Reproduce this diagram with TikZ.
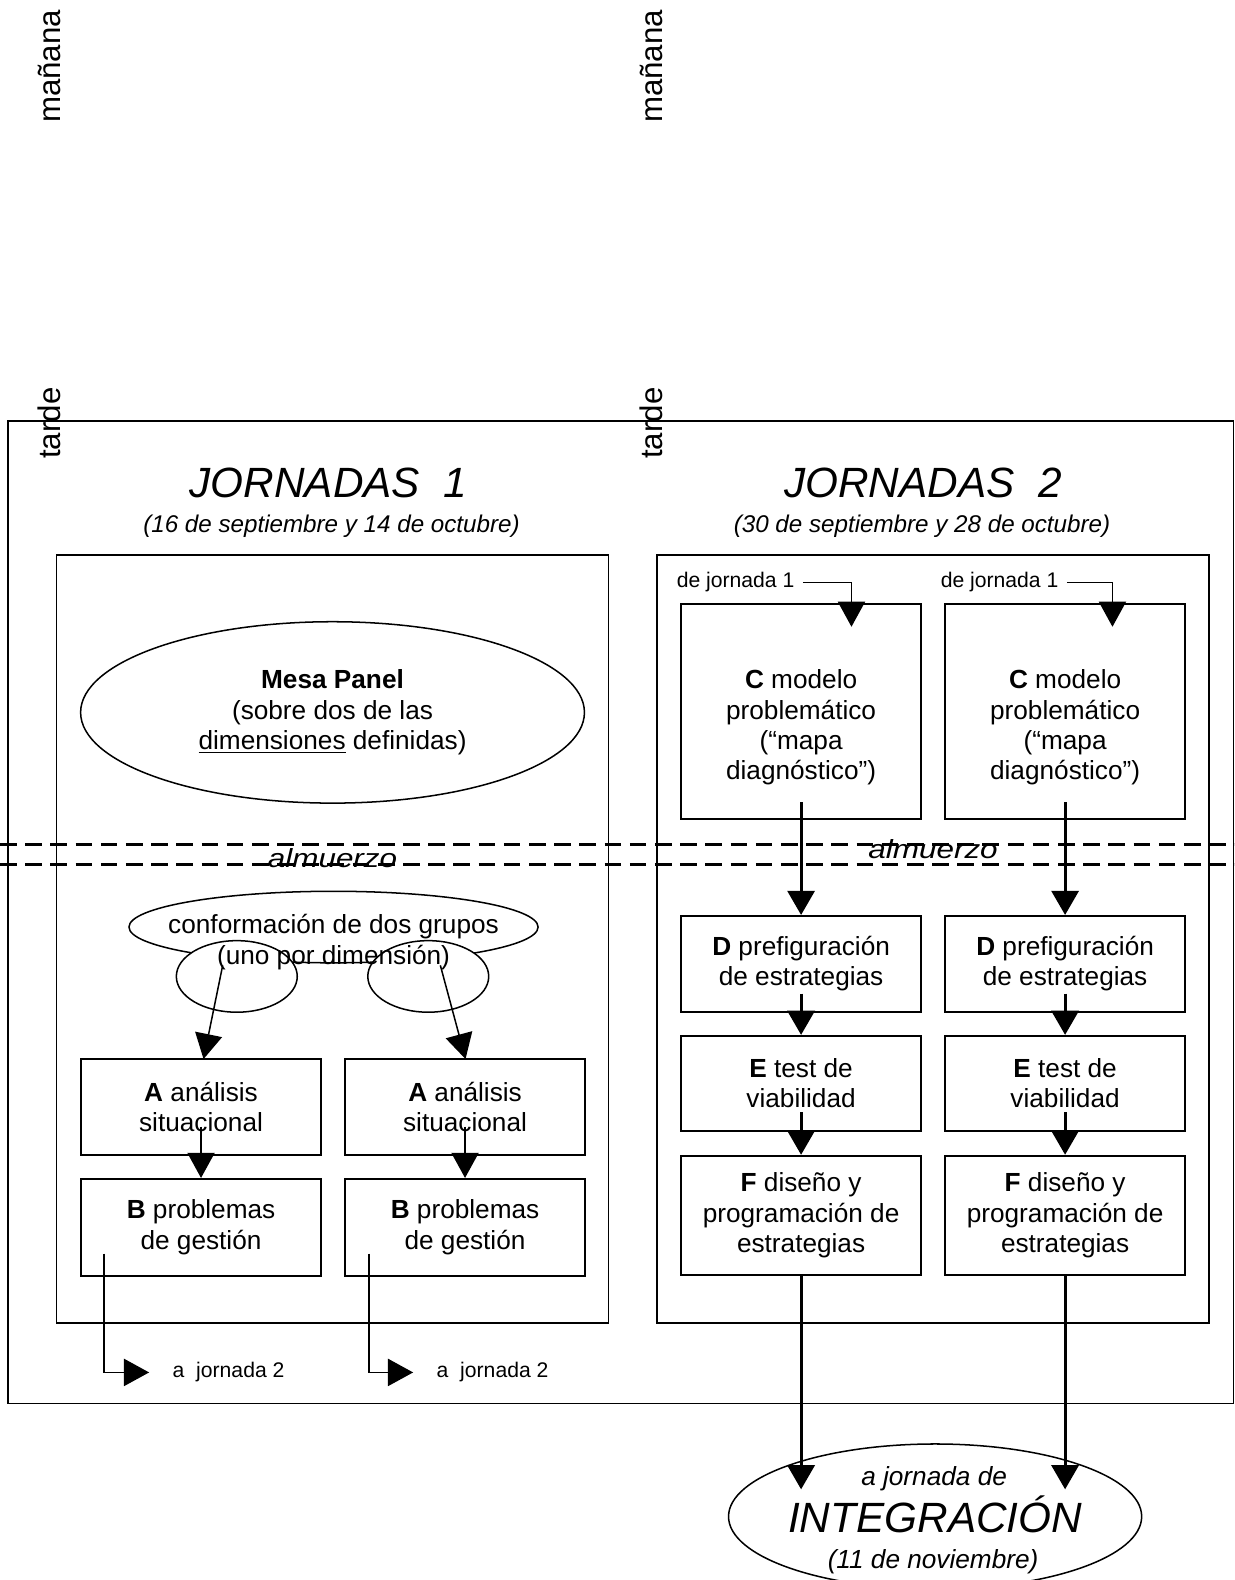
\documentclass[tikz,border=0pt]{standalone}
\usepackage{fontspec}
\setmainfont{Liberation Sans}
\usetikzlibrary{arrows.meta,shapes.geometric}
\newcommand\fbody{\fontsize{13}{15}\selectfont}
\newcommand\fsmall{\fontsize{10.5}{12}\selectfont}
\newcommand\fbig{\fontsize{21}{24}\selectfont}
\newcommand\fside{\fontsize{15.5}{18}\selectfont}
\newcommand\fdate{\fontsize{12}{14}\selectfont}
\begin{document}
\begin{tikzpicture}[x=0.5pt,y=-0.5pt,
  frame/.style={draw,line width=0.8pt},
  stepbox/.style={draw,line width=1pt,minimum width=119pt,inner sep=0pt,align=center,font=\fbody},
  oval/.style={draw,ellipse,line width=0.75pt,inner sep=0pt},
  thinarr/.style={line width=0.75pt,-{Triangle[length=12.5pt,width=13.5pt]}},
  thickarr/.style={line width=1.4pt,-{Triangle[length=12pt,width=13.5pt]}},
  lunch/.style={line width=1.3pt,dash pattern=on 8.25pt off 4.25pt},
  txt/.style={inner sep=0pt,align=center,font=\fbody},
  side/.style={rotate=90,anchor=base,inner sep=0pt,font=\fside},
  title/.style={anchor=base,inner sep=0pt,font=\fbig\itshape},
  datefont/.style={anchor=base,inner sep=0pt,font=\fdate\itshape},
  lunchtxt/.style={anchor=base,inner sep=0pt,font=\fbody\itshape,xscale=1.2},
  small/.style={inner sep=0pt,font=\fsmall}]

\useasboundingbox (0,0) rectangle (1225,1568);

% side labels
\node[side] (m1) at (60,66) {mañana};
\node[side] (m2) at (657,66) {mañana};
\node[side] (t1) at (60,420) {tarde};
\node[side] (t2) at (657,420) {tarde};

% frames
\draw[frame] (8,418) rectangle (1224,1393);
\draw[frame] (56,551) rectangle (604,1313);
\draw[frame] (652,551) rectangle (1200,1313);

% titles
\node[title] (j1) at (326,494) {JORNADAS\ \ 1};
\node[datefont] (d1) at (329,528) {(16 de septiembre y 14 de octubre)};
\node[title] (j2) at (916,494) {JORNADAS\ \ 2};
\node[datefont] (d2) at (915,528) {(30 de septiembre y 28 de octubre)};

% lunch lines
\draw[lunch] (0,838) -- (1225,838);
\draw[lunch] (0,858) -- (1225,858);
\node[lunchtxt] (al1) at (330,861) {almuerzo};
\node[lunchtxt] (al2) at (926,852) {almuerzo};

% Jornadas 1
\node[oval,minimum width=250pt,minimum height=90pt,font=\fbody,align=center] (mesa) at (330,707)
  {\textbf{Mesa Panel}\\(sobre dos de las\\\underline{dimensiones} definidas)};

\node[oval,minimum width=203pt,minimum height=35.5pt] (conf) at (331,920) {};
\node[oval,fill=white,minimum width=60pt,minimum height=35.5pt] (g1) at (235,969) {};
\node[oval,fill=white,minimum width=60pt,minimum height=35.5pt] (g2) at (425,969) {};
\node[txt] (conft) at (331,935) {conformación de dos grupos\\(uno por dimensión)};

\node[stepbox,minimum height=47.5pt] (A1) at (199.5,1098.5) {\textbf{A} análisis\\situacional};
\node[stepbox,minimum height=47.5pt] (A2) at (461.5,1098.5) {\textbf{A} análisis\\situacional};
\node[stepbox,minimum height=48pt] (B1) at (199.5,1218) {\textbf{B} problemas\\de gestión};
\node[stepbox,minimum height=48pt] (B2) at (461.5,1218) {\textbf{B} problemas\\de gestión};

\coordinate (s1) at (221,958);
\coordinate (e1) at (202,1051);
\coordinate (s2) at (437,958);
\coordinate (e2) at (462,1051);
\draw[thinarr] (s1) -- (e1);
\draw[thinarr] (s2) -- (e2);

\coordinate (a1s) at (199.5,1118);
\coordinate (a2s) at (461.5,1118);
\draw[thinarr] (a1s) -- (B1.north);
\draw[thinarr] (a2s) -- (B2.north);

\node[small,anchor=west] (aj1) at (171,1362) {a\ \ jornada 2};
\node[small,anchor=west] (aj2) at (433,1362) {a\ \ jornada 2};
\coordinate (b1s) at (103,1244);
\coordinate (b1e) at (148,1362);
\coordinate (b2s) at (366,1244);
\coordinate (b2e) at (410,1362);
\draw[thinarr] (b1s) |- (b1e);
\draw[thinarr] (b2s) |- (b2e);

% Jornadas 2
\node[small] (dj1) at (730,578) {de jornada 1};
\node[small] (dj2) at (992,578) {de jornada 1};
\coordinate (c1in) at (845,622);
\coordinate (c2in) at (1104,622);

\node[stepbox,minimum height=107pt] (C1) at (795,706) {};
\node[stepbox,minimum height=107pt] (C2) at (1057,706) {};
\node[txt] (C1t) at (795,722) {\textbf{C} modelo\\problemático\\(“mapa\\diagnóstico”)};
\node[txt] (C2t) at (1057,722) {\textbf{C} modelo\\problemático\\(“mapa\\diagnóstico”)};

\draw[thinarr] ([xshift=4pt]dj1.east) -| (c1in);
\draw[thinarr] ([xshift=4pt]dj2.east) -| (c2in);

\node[stepbox,minimum height=47.5pt] (D1) at (795,956.5) {\textbf{D} prefiguración\\de estrategias};
\node[stepbox,minimum height=47.5pt] (D2) at (1057,956.5) {\textbf{D} prefiguración\\de estrategias};
\node[stepbox,minimum height=47pt] (E1) at (795,1075) {\textbf{E} test de\\viabilidad};
\node[stepbox,minimum height=47pt] (E2) at (1057,1075) {\textbf{E} test de\\viabilidad};
\node[stepbox,minimum height=59pt] (F1) at (795,1206) {\textbf{F} diseño y\\programación de\\estrategias};
\node[stepbox,minimum height=59pt] (F2) at (1057,1206) {\textbf{F} diseño y\\programación de\\estrategias};

\coordinate (c1s) at (795,796);
\coordinate (c2s) at (1057,796);
\coordinate (d1s) at (795,986);
\coordinate (d2s) at (1057,986);
\coordinate (e1s) at (795,1104);
\coordinate (e2s) at (1057,1104);
\draw[thickarr] (c1s) -- (D1.north);
\draw[thickarr] (c2s) -- (D2.north);
\draw[thickarr] (d1s) -- (E1.north);
\draw[thickarr] (d2s) -- (E2.north);
\draw[thickarr] (e1s) -- (F1.north);
\draw[thickarr] (e2s) -- (F2.north);

% integration
\node[oval,minimum width=205pt,minimum height=72pt] (int) at (928,1505) {};
\node[anchor=base,inner sep=0pt,font=\fbody\itshape] (it1) at (927,1474) {a jornada de};
\node[anchor=base,inner sep=0pt,font=\fbig\itshape] (it2) at (928,1521) {INTEGRACIÓN};
\node[anchor=base,inner sep=0pt,font=\fbody\itshape] (it3) at (926,1557) {(11 de noviembre)};

\coordinate (i1) at (795,1478);
\coordinate (i2) at (1057,1478);
\draw[thickarr] (F1.south) -- (i1);
\draw[thickarr] (F2.south) -- (i2);

\end{tikzpicture}
\end{document}
